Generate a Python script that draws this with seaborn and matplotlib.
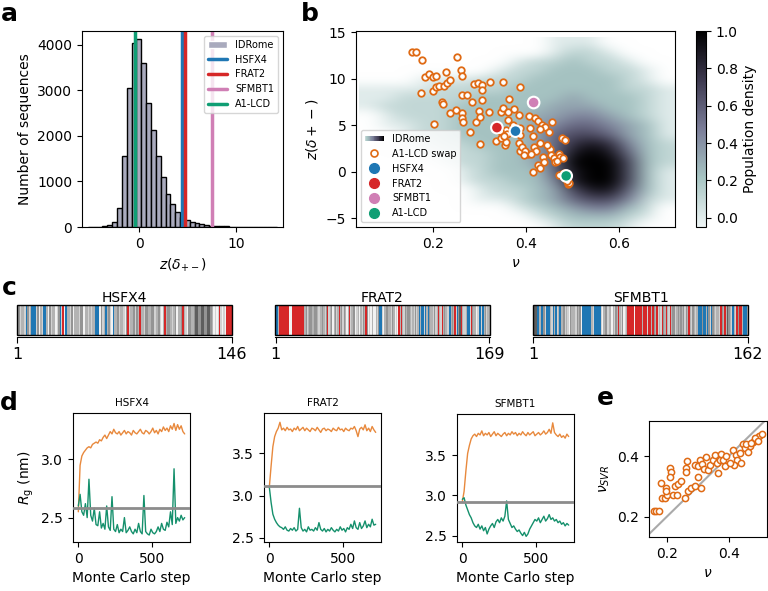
import numpy as np
import pandas as pd
import matplotlib
matplotlib.use('Agg')
import matplotlib.pyplot as plt
import seaborn as sns
from matplotlib.colors import LinearSegmentedColormap, Normalize
from matplotlib.patches import Patch, Rectangle
from matplotlib.lines import Line2D
from matplotlib.legend_handler import HandlerBase

sns.set_style('ticks', {'axes.edgecolor': 'black', 'xtick.color': 'black', 'ytick.color': 'black',
                        'text.color': 'black', 'axes.labelcolor': 'black'})
plt.rcParams['font.family'] = ['DejaVu Sans']
plt.rcParams.update({'font.size': 10, 'axes.labelsize': 10, 'xtick.labelsize': 10, 'ytick.labelsize': 10,
                     'xtick.major.size': 3.5, 'ytick.major.size': 3.5, 'axes.linewidth': 0.8,
                     'mathtext.fontset': 'dejavusans'})

# ---------------- data ----------------
# panel a: histogram of z(delta+-) in IDRome
hist_start = -5.3
hist_width = 0.5
hist_counts = [3, 5, 8, 15, 35, 110, 425, 1555, 3060, 4030, 4120, 3600, 2720, 2120, 1560, 1100, 720,
               500, 330, 220, 160, 120, 90, 65, 45, 30, 22, 16, 12, 9, 7, 5, 4, 3, 3, 2, 2, 1, 1]

seq_names = ['HSFX4', 'FRAT2', 'SFMBT1', 'A1-LCD']
seq_z = [4.37, 4.75, 7.45, -0.45]
seq_nu = [0.377, 0.337, 0.416, 0.486]
seq_colors = ['#1f77b4', '#d62728', '#d07fb5', '#109e74']

# panel b: IDRome population density (rows z = 14 ... -6, columns nu = 0.06 ... 0.70), '.' = empty
density_rows = [
    "..........000....",
    "..........0110...",
    "........0112110..",
    ".......011222110.",
    "...0001112222210.",
    "00001111222222110",
    "00111122222322210",
    "01111222223332210",
    ".0111222233443210",
    ".0011222234554320",
    "..011222235665320",
    "..001122235787421",
    "...00112235898521",
    "....0112235999621",
    ".....012225899620",
    ".....011224899620",
    "......01123688520",
    "......00123566410",
    "........01234421.",
    ".........0122210.",
    "..........01110..",
]

swap_nu = [0.155, 0.164, 0.177, 0.251, 0.183, 0.191, 0.199, 0.207, 0.227, 0.260, 0.261, 0.174,
           0.199, 0.207, 0.213, 0.223, 0.229, 0.237, 0.219, 0.222, 0.261, 0.273, 0.284, 0.287,
           0.296, 0.304, 0.306, 0.323, 0.350, 0.386, 0.305, 0.363, 0.201, 0.237, 0.249, 0.261,
           0.261, 0.265, 0.291, 0.299, 0.301, 0.321, 0.345, 0.351, 0.361, 0.373, 0.384, 0.280,
           0.301, 0.334, 0.346, 0.354, 0.356, 0.357, 0.359, 0.371, 0.386, 0.386, 0.384, 0.386,
           0.390, 0.406, 0.419, 0.425, 0.433, 0.441, 0.456, 0.409, 0.414, 0.416, 0.429, 0.421,
           0.404, 0.411, 0.414, 0.425, 0.429, 0.437, 0.439, 0.451, 0.454, 0.459, 0.461, 0.470,
           0.473, 0.476, 0.484, 0.476, 0.483, 0.489, 0.491, 0.487, 0.471, 0.482,
           0.343, 0.352, 0.398, 0.395, 0.445, 0.466, 0.480, 0.430, 0.448, 0.360]
swap_z = [12.85, 12.85, 12.0, 12.3, 10.2, 10.5, 10.2, 10.3, 10.7, 10.95, 10.3, 8.5,
          8.7, 9.1, 9.2, 9.2, 9.5, 9.9, 7.5, 7.3, 8.3, 8.3, 7.5, 9.4,
          9.6, 9.3, 8.8, 9.7, 9.7, 9.1, 7.7, 7.8, 5.1, 6.3, 6.6, 6.3,
          5.8, 5.4, 5.3, 6.5, 5.9, 6.4, 6.4, 6.9, 6.4, 6.8, 6.1, 4.25,
          3.0, 3.3, 3.6, 2.85, 3.25, 4.5, 4.1, 5.0, 4.7, 3.95, 3.1, 2.2,
          2.7, 6.0, 5.75, 5.5, 5.0, 4.85, 5.4, 4.7, 3.85, 2.7, 3.1, 2.2,
          1.9, 1.95, 0.0, 0.7, 0.4, 1.55, 1.0, 2.5, 1.85, 1.45, 1.0, 1.9,
          1.6, 3.6, 3.4, -0.2, -0.7, -1.3, -1.2, -1.05, -0.35, -0.15,
          4.4, 3.9, 2.2, 1.8, 2.9, 1.2, 1.5, 4.6, 4.3, 5.6]

# panel c: residue classes (b = positive, r = negative, 1-5 = grey shade)
seq_strings = {
    'HSFX4': ("342332b423" "bbb24132bb" "314233124b" "2r1b332413" "3324413323" "233bbb1423"
              "b3421b3342" "33214r2334" "243r332443" "3442334213" "r344323413" "34r3214433"
              "4554455445" "5431212r21" "21rrrr"),
    'FRAT2': ("bb3rrrrrrr" "r11rrrrrrr" "rrr3423443" "3443233432" "4r23413423" "r3424313r2"
              "3441231324" "3r41213113" "24bb213443" "3243121r3r" "3243443232" "423b3bb2b3"
              "b4332423r3" "2r34322b34" "3r2b45r322" "3bb2r43312" "bb2b34233"),
    'SFMBT1': ("255bb3bb42" "bbb32b3b23" "b334232143" "3324341bbb" "bbbb32bbbb" "b213442331"
               "3243r32412" "3rrrrr1rrr" "rr3rrr2rr3" "r43r232r43" "r32r344234" "3434243r32"
               "4323bbb4bb" "3b42b43233" "2r43r35432" "b32r4rr3bb" "b3"),
}
residue_colors = {'b': '#1f77b4', 'r': '#d62728', '1': '#f2f2f2', '2': '#d2d2d2',
                  '3': '#b3b3b3', '4': '#949494', '5': '#5e5e5e'}

# panel d: Rg along Monte Carlo steps
mc_steps = list(range(0, 721, 12))
rg_up = {
    'HSFX4': [2.55, 2.95, 3.03, 3.06, 3.08, 3.10, 3.11, 3.10, 3.13, 3.14,
              3.15, 3.14, 3.17, 3.16, 3.19, 3.21, 3.18, 3.21, 3.24, 3.22,
              3.26, 3.23, 3.22, 3.24, 3.21, 3.23, 3.25, 3.22, 3.24, 3.23,
              3.21, 3.25, 3.23, 3.22, 3.24, 3.26, 3.23, 3.22, 3.25, 3.24,
              3.22, 3.24, 3.27, 3.23, 3.25, 3.22, 3.26, 3.24, 3.28, 3.25,
              3.27, 3.24, 3.29, 3.26, 3.31, 3.25, 3.30, 3.26, 3.29, 3.24, 3.22],
    'FRAT2': [3.10, 3.35, 3.58, 3.70, 3.76, 3.80, 3.87, 3.78, 3.80, 3.77,
              3.81, 3.78, 3.79, 3.76, 3.80, 3.78, 3.82, 3.77, 3.79, 3.81,
              3.77, 3.80, 3.78, 3.76, 3.80, 3.79, 3.77, 3.81, 3.78, 3.75,
              3.79, 3.80, 3.77, 3.79, 3.78, 3.76, 3.80, 3.78, 3.77, 3.81,
              3.78, 3.79, 3.76, 3.80, 3.78, 3.77, 3.80, 3.79, 3.82, 3.77,
              3.70, 3.79, 3.81, 3.78, 3.84, 3.77, 3.80, 3.76, 3.82, 3.78, 3.75],
    'SFMBT1': [2.92, 3.05, 3.30, 3.52, 3.62, 3.70, 3.74, 3.76, 3.73, 3.77,
               3.75, 3.80, 3.74, 3.77, 3.75, 3.78, 3.73, 3.76, 3.79, 3.74,
               3.77, 3.75, 3.73, 3.76, 3.78, 3.74, 3.77, 3.75, 3.79, 3.76,
               3.78, 3.74, 3.77, 3.75, 3.79, 3.76, 3.74, 3.78, 3.75, 3.77,
               3.79, 3.74, 3.76, 3.78, 3.75, 3.77, 3.80, 3.76, 3.78, 3.82,
               3.77, 3.90, 3.78, 3.75, 3.73, 3.76, 3.72, 3.74, 3.71, 3.76, 3.73],
}
rg_down = {
    'HSFX4': [2.60, 2.70, 2.55, 2.52, 2.62, 2.50, 2.83, 2.52, 2.47, 2.58,
              2.44, 2.43, 2.55, 2.41, 2.45, 2.40, 2.60, 2.42, 2.39, 2.68,
              2.40, 2.38, 2.44, 2.37, 2.40, 2.38, 2.50, 2.37, 2.39, 2.42,
              2.38, 2.36, 2.40, 2.37, 2.45, 2.38, 2.36, 2.69, 2.38, 2.36,
              2.35, 2.40, 2.37, 2.36, 2.38, 2.42, 2.38, 2.45, 2.40, 2.39,
              2.46, 2.42, 2.55, 2.44, 2.92, 2.45, 2.50, 2.47, 2.52, 2.48, 2.50],
    'FRAT2': [3.10, 2.92, 2.78, 2.72, 2.68, 2.65, 2.63, 2.62, 2.60, 2.63,
              2.59, 2.58, 2.61, 2.59, 2.62, 2.58, 2.60, 2.85, 2.62, 2.58,
              2.60, 2.57, 2.63, 2.59, 2.60, 2.58, 2.62, 2.59, 2.68, 2.60,
              2.58, 2.61, 2.57, 2.60, 2.58, 2.62, 2.59, 2.57, 2.60, 2.58,
              2.63, 2.59, 2.61, 2.57, 2.62, 2.60, 2.66, 2.61, 2.70, 2.62,
              2.60, 2.68, 2.61, 2.64, 2.70, 2.62, 2.66, 2.63, 2.72, 2.65, 2.66],
    'SFMBT1': [2.95, 2.97, 2.88, 2.82, 2.76, 2.72, 2.66, 2.62, 2.60, 2.64,
               2.58, 2.62, 2.56, 2.60, 2.52, 2.58, 2.62, 2.65, 2.60, 2.67,
               2.70, 2.66, 2.72, 2.68, 2.74, 2.93, 2.70, 2.65, 2.60, 2.62,
               2.58, 2.55, 2.57, 2.53, 2.50, 2.54, 2.49, 2.52, 2.58, 2.62,
               2.66, 2.70, 2.68, 2.72, 2.66, 2.70, 2.74, 2.68, 2.71, 2.76,
               2.70, 2.72, 2.68, 2.70, 2.66, 2.68, 2.64, 2.66, 2.62, 2.65, 2.63],
}
rg_start = {'HSFX4': 2.583, 'FRAT2': 3.11, 'SFMBT1': 2.92}
rg_ylim = {'HSFX4': (2.29, 3.40), 'FRAT2': (2.45, 3.98), 'SFMBT1': (2.42, 4.01)}
rg_yticks = {'HSFX4': [2.5, 3.0], 'FRAT2': [2.5, 3.0, 3.5], 'SFMBT1': [2.5, 3.0, 3.5]}

# panel e: simulated nu vs SVR prediction
e_nu = [0.157, 0.165, 0.174, 0.179, 0.185, 0.192, 0.200, 0.196, 0.198, 0.211, 0.213, 0.209,
        0.219, 0.234, 0.225, 0.236, 0.246, 0.263, 0.266, 0.263, 0.259, 0.267, 0.279, 0.290,
        0.300, 0.290, 0.300, 0.306, 0.314, 0.319, 0.309, 0.328, 0.333, 0.341, 0.349, 0.355,
        0.362, 0.371, 0.365, 0.376, 0.382, 0.387, 0.392, 0.414, 0.423, 0.427, 0.436, 0.418,
        0.446, 0.454, 0.463, 0.470, 0.479, 0.488, 0.493, 0.500, 0.509, 0.403, 0.441, 0.455,
        0.472, 0.485, 0.495]
e_svr = [0.219, 0.219, 0.219, 0.312, 0.263, 0.263, 0.271, 0.295, 0.284, 0.360, 0.348, 0.332,
         0.271, 0.271, 0.300, 0.309, 0.317, 0.361, 0.384, 0.347, 0.260, 0.284, 0.293, 0.300,
         0.330, 0.370, 0.367, 0.387, 0.374, 0.359, 0.293, 0.398, 0.356, 0.370, 0.389, 0.403,
         0.376, 0.387, 0.345, 0.407, 0.387, 0.367, 0.400, 0.420, 0.404, 0.389, 0.411, 0.370,
         0.442, 0.426, 0.415, 0.433, 0.448, 0.455, 0.462, 0.466, 0.475, 0.377, 0.376, 0.440,
         0.445, 0.460, 0.452]

ORANGE = '#df6a14'
TRACE_UP = '#e8893d'
TRACE_DOWN = '#15906c'
HIST_COLOR = '#a9aabd'

cmap = LinearSegmentedColormap.from_list('idrome', [(0.0, '#eef5f5'), (0.25, '#a7c5c3'),
                                                    (0.5, '#7b7e99'), (0.75, '#3d394f'),
                                                    (1.0, '#000000')])
cmap.set_bad(color='#eef5f5', alpha=0.0)
norm = Normalize(vmin=-0.05, vmax=1.0)


class GradientHandler(HandlerBase):
    def create_artists(self, legend, orig_handle, xdescent, ydescent, width, height, fontsize, trans):
        n = 24
        arts = []
        for i in range(n):
            r = Rectangle((-xdescent + i * width / n, -ydescent + 0.1 * height), width / n * 1.05,
                          0.8 * height, facecolor=cmap(0.15 + 0.85 * i / (n - 1)),
                          edgecolor='none', transform=trans)
            arts.append(r)
        return arts


fig = plt.figure(figsize=(7.68, 5.91), dpi=100)


def px_axes(l, t, r, b):
    return fig.add_axes([l / 768, 1 - b / 591, (r - l) / 768, (b - t) / 591])


# ---------------- a ----------------
ax_a = px_axes(82, 31, 283, 227)
edges = [hist_start + hist_width * k for k in range(len(hist_counts) + 1)]
hist_df = pd.DataFrame({'z': [e + hist_width / 2 for e in edges[:-1]], 'n': hist_counts})
sns.histplot(data=hist_df, x='z', weights='n', bins=edges, color=HIST_COLOR, edgecolor='black',
             linewidth=1, alpha=1, ax=ax_a)
for z, c in zip(seq_z, seq_colors):
    ax_a.axvline(z, color=c, lw=2.5)
ax_a.set_xlim(-5.9, 14.8)
ax_a.set_ylim(0, 4300)
ax_a.set_xticks([0, 10])
ax_a.set_yticks([0, 1000, 2000, 3000, 4000])
ax_a.set_xlabel(r'$z(\delta_{+-})$')
ax_a.set_ylabel('Number of sequences')
h_a = [Patch(facecolor=HIST_COLOR, label='IDRome')] + \
      [Line2D([], [], color=c, lw=2.5, label=n) for n, c in zip(seq_names, seq_colors)]
ax_a.legend(handles=h_a, loc='upper right', fontsize=7)

# ---------------- b ----------------
ax_b = px_axes(356, 31, 675, 227)
dens = np.array([[np.nan if ch == '.' else int(ch) / 9 for ch in row] for row in density_rows])
ax_b.imshow(np.ma.masked_invalid(dens), cmap=cmap, norm=norm, extent=(0.04, 0.72, -6.5, 14.5),
            aspect='auto', interpolation='bicubic', interpolation_stage='rgba', origin='upper', zorder=0)
sns.scatterplot(x=swap_nu, y=swap_z, color='white', edgecolor=ORANGE, linewidth=1.3, s=22,
                ax=ax_b, zorder=3, legend=False)
sns.scatterplot(x=seq_nu, y=seq_z, hue=seq_names, palette=dict(zip(seq_names, seq_colors)),
                s=70, edgecolor='white', linewidth=1.5, ax=ax_b, zorder=4, legend=False)
ax_b.set_xlim(0.034, 0.72)
ax_b.set_ylim(-5.95, 15.15)
ax_b.set_xticks([0.2, 0.4, 0.6])
ax_b.set_yticks([-5, 0, 5, 10, 15])
ax_b.set_xlabel(r'$\nu$')
ax_b.set_ylabel(r'$z(\delta+-)$')
grad = Rectangle((0, 0), 1, 1)
h_b = [grad, Line2D([], [], marker='o', ls='', mfc='white', mec=ORANGE, mew=1.2, ms=5)] + \
      [Line2D([], [], marker='o', ls='', color=c, ms=7) for c in seq_colors]
ax_b.legend(h_b, ['IDRome', 'A1-LCD swap'] + seq_names, handler_map={grad: GradientHandler()},
            loc='lower left', fontsize=7)

cax = px_axes(696, 31, 706, 227)
cb = fig.colorbar(plt.cm.ScalarMappable(norm=norm, cmap=cmap), cax=cax)
cb.set_ticks([0.0, 0.2, 0.4, 0.6, 0.8, 1.0])
cb.set_label('Population density')
cb.outline.set_linewidth(0.8)

# ---------------- c ----------------
bar_x = {'HSFX4': (16.7, 232.3), 'FRAT2': (275, 490), 'SFMBT1': (532.7, 748.3)}
for name, seq in seq_strings.items():
    x0, x1 = bar_x[name]
    ax = px_axes(x0, 305, x1, 335)
    n = len(seq)
    ax.bar(np.arange(1, n + 1), 1, width=1.0, color=[residue_colors[ch] for ch in seq], linewidth=0)
    ax.set_xlim(0.5, n + 0.5)
    ax.set_ylim(0, 1)
    ax.set_yticks([])
    for s in ['left', 'top', 'right']:
        ax.spines[s].set_visible(False)
    ax.spines['bottom'].set_position(('outward', 1.3))
    ax.add_patch(Rectangle((0, 0), 1, 1, transform=ax.transAxes, fill=False, lw=1, ec='black',
                           clip_on=False, zorder=5))
    ax.set_xticks([1, n])
    ax.set_xticklabels(['1', str(n)], fontsize=11.5)
    ax.tick_params(axis='x', length=4)
    ax.set_title(name, fontsize=10, pad=2)

# ---------------- d ----------------
d_pos = {'HSFX4': (73, 413, 190, 542), 'FRAT2': (264, 413, 381, 542), 'SFMBT1': (457, 414, 574, 542)}
for i, name in enumerate(['HSFX4', 'FRAT2', 'SFMBT1']):
    ax = px_axes(*d_pos[name])
    sns.lineplot(x=mc_steps, y=rg_up[name], color=TRACE_UP, lw=1, ax=ax)
    sns.lineplot(x=mc_steps, y=rg_down[name], color=TRACE_DOWN, lw=1, ax=ax)
    ax.axhline(rg_start[name], color='#8c8c8c', lw=2, zorder=3)
    ax.set_xlim(-36, 756)
    ax.set_ylim(*rg_ylim[name])
    ax.set_yticks(rg_yticks[name])
    ax.set_xticks([0, 500])
    ax.set_xlabel('Monte Carlo step')
    ax.set_title(name, fontsize=7.5, pad=5)
    if i == 0:
        ax.set_ylabel(r'$R_\mathrm{g}$ (nm)')

# ---------------- e ----------------
ax_e = px_axes(649, 421, 766.5, 537)
ax_e.plot([0.1, 0.6], [0.1, 0.6], color='#aaaaaa', lw=1.5, zorder=1)
sns.scatterplot(x=e_nu, y=e_svr, color='white', edgecolor=ORANGE, linewidth=1.1, s=20,
                ax=ax_e, zorder=3, legend=False)
ax_e.set_xlim(0.1416, 0.523)
ax_e.set_ylim(0.132, 0.517)
ax_e.set_xticks([0.2, 0.4])
ax_e.set_yticks([0.2, 0.4])
ax_e.set_xlabel(r'$\nu$')
ax_e.set_ylabel(r'$\nu_{SVR}$')

# panel letters
for letter, x, y in [('a', 1, 21), ('b', 301, 21), ('c', 2, 295), ('d', 0, 410), ('e', 597, 405)]:
    fig.text(x / 768, 1 - y / 591, letter, fontsize=18, fontweight='bold', ha='left', va='baseline')

fig.savefig('out.png', dpi=100)
